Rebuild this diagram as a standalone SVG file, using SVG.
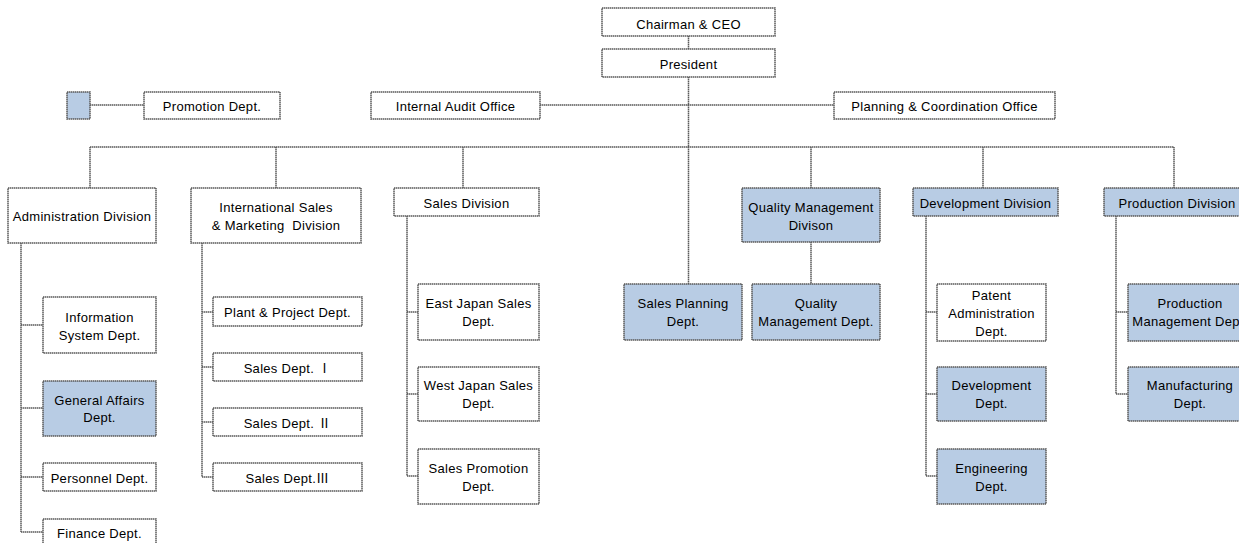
<svg xmlns="http://www.w3.org/2000/svg" width="1239" height="543" viewBox="0 0 1239 543">
<style>
.bx{fill:#ffffff;stroke:#5a5a5a;stroke-width:1.5;stroke-dasharray:1.5 0.5}
.bl{fill:#b8cce4}
.cn{fill:none;stroke:#5a5a5a;stroke-width:1.5;stroke-dasharray:1.5 0.5}
text{font-family:"Liberation Sans","Noto Sans CJK JP",sans-serif;font-size:13px;letter-spacing:0.3px;fill:#000;text-anchor:middle}
</style>
<rect width="1239" height="543" fill="#ffffff"/>
<g id="connectors">
<path class="cn" d="M688.5,36 V49 M688.5,77 V284 M540,105 H834 M90,105 H144 M90,147 H1174 M90,147 V188 M276,147 V188 M463,147 V188 M811,147 V188 M983,147 V188 M1174,147 V188 M811,242 V284"/>
<path class="cn" d="M21,243 V532 M21,325 H43 M21,408 H43 M21,477 H43 M21,532 H43"/>
<path class="cn" d="M202,243 V477 M202,312 H213 M202,367 H213 M202,422 H213 M202,477 H213"/>
<path class="cn" d="M407,216 V476 M407,312 H418 M407,394 H418 M407,476 H418"/>
<path class="cn" d="M926,216 V476 M926,312 H937 M926,394 H937 M926,476 H937"/>
<path class="cn" d="M1116,216 V394 M1116,312 H1128 M1116,394 H1128"/>
</g>
<g id="chairman"><rect class="bx" x="602" y="8" width="173" height="28"/><text x="688.5" y="28.5">Chairman &amp; CEO</text></g>
<g id="president"><rect class="bx" x="602" y="49" width="173" height="28"/><text x="688.5" y="69">President</text></g>
<g id="internal-audit"><rect class="bx" x="371" y="92" width="169" height="27"/><text x="455.5" y="111">Internal Audit Office</text></g>
<g id="planning"><rect class="bx" x="834" y="92" width="221" height="27"/><text x="944.5" y="111">Planning &amp; Coordination Office</text></g>
<g id="blue-square"><rect class="bx bl" x="67" y="92" width="23" height="27"/></g>
<g id="promotion"><rect class="bx" x="144" y="92" width="136" height="27"/><text x="212" y="111">Promotion Dept.</text></g>
<g id="admin-div"><rect class="bx" x="8" y="188" width="148" height="55"/><text x="82" y="221">Administration Division</text></g>
<g id="intl-div"><rect class="bx" x="191" y="188" width="170" height="55"/><text x="276" y="212">International Sales</text><text x="276" y="230" xml:space="preserve">&amp; Marketing  Division</text></g>
<g id="sales-div"><rect class="bx" x="394" y="188" width="145" height="28"/><text x="466.5" y="208">Sales Division</text></g>
<g id="qm-div"><rect class="bx bl" x="742" y="188" width="138" height="54"/><text x="811" y="212">Quality Management</text><text x="811" y="230">Divison</text></g>
<g id="dev-div"><rect class="bx bl" x="913" y="188" width="145" height="28"/><text x="985.5" y="208">Development Division</text></g>
<g id="prod-div"><rect class="bx bl" x="1104" y="188" width="146" height="28"/><text x="1177" y="208">Production Division</text></g>
<g id="info-sys"><rect class="bx" x="43" y="297" width="113" height="56"/><text x="99.5" y="322">Information</text><text x="99.5" y="339.5">System Dept.</text></g>
<g id="general-affairs"><rect class="bx bl" x="43" y="381" width="113" height="55"/><text x="99.5" y="405">General Affairs</text><text x="99.5" y="422">Dept.</text></g>
<g id="personnel"><rect class="bx" x="43" y="463" width="113" height="28"/><text x="99.5" y="482.5">Personnel Dept.</text></g>
<g id="finance"><rect class="bx" x="43" y="519" width="113" height="28"/><text x="99.5" y="538">Finance Dept.</text></g>
<g id="plant-project"><rect class="bx" x="213" y="297" width="149" height="29"/><text x="287.5" y="317">Plant &amp; Project Dept.</text></g>
<g id="sales-1"><rect class="bx" x="213" y="353" width="149" height="28"/><text x="287.5" y="372.5">Sales Dept. Ⅰ</text></g>
<g id="sales-2"><rect class="bx" x="213" y="408" width="149" height="28"/><text x="287.5" y="427.5">Sales Dept. Ⅱ</text></g>
<g id="sales-3"><rect class="bx" x="213" y="463" width="149" height="28"/><text x="287.5" y="482.5">Sales Dept.Ⅲ</text></g>
<g id="east-japan"><rect class="bx" x="418" y="284" width="121" height="56"/><text x="478.5" y="308">East Japan Sales</text><text x="478.5" y="326">Dept.</text></g>
<g id="west-japan"><rect class="bx" x="418" y="367" width="121" height="54"/><text x="478.5" y="390">West Japan Sales</text><text x="478.5" y="408">Dept.</text></g>
<g id="sales-promotion"><rect class="bx" x="418" y="449" width="121" height="55"/><text x="478.5" y="472.5">Sales Promotion</text><text x="478.5" y="490.5">Dept.</text></g>
<g id="sales-planning"><rect class="bx bl" x="624" y="284" width="118" height="56"/><text x="683" y="308">Sales Planning</text><text x="683" y="326">Dept.</text></g>
<g id="qm-dept"><rect class="bx bl" x="752" y="284" width="128" height="56"/><text x="816" y="308">Quality</text><text x="816" y="326">Management Dept.</text></g>
<g id="patent"><rect class="bx" x="937" y="284" width="109" height="57"/><text x="991.5" y="300">Patent</text><text x="991.5" y="318">Administration</text><text x="991.5" y="336">Dept.</text></g>
<g id="development-dept"><rect class="bx bl" x="937" y="367" width="109" height="54"/><text x="991.5" y="390">Development</text><text x="991.5" y="408">Dept.</text></g>
<g id="engineering"><rect class="bx bl" x="937" y="449" width="109" height="55"/><text x="991.5" y="472.5">Engineering</text><text x="991.5" y="490.5">Dept.</text></g>
<g id="prod-mgmt"><rect class="bx bl" x="1128" y="284" width="124" height="57"/><text x="1190" y="308">Production</text><text x="1190" y="326">Management Dept.</text></g>
<g id="manufacturing"><rect class="bx bl" x="1128" y="367" width="124" height="54"/><text x="1190" y="390">Manufacturing</text><text x="1190" y="408">Dept.</text></g>
</svg>
